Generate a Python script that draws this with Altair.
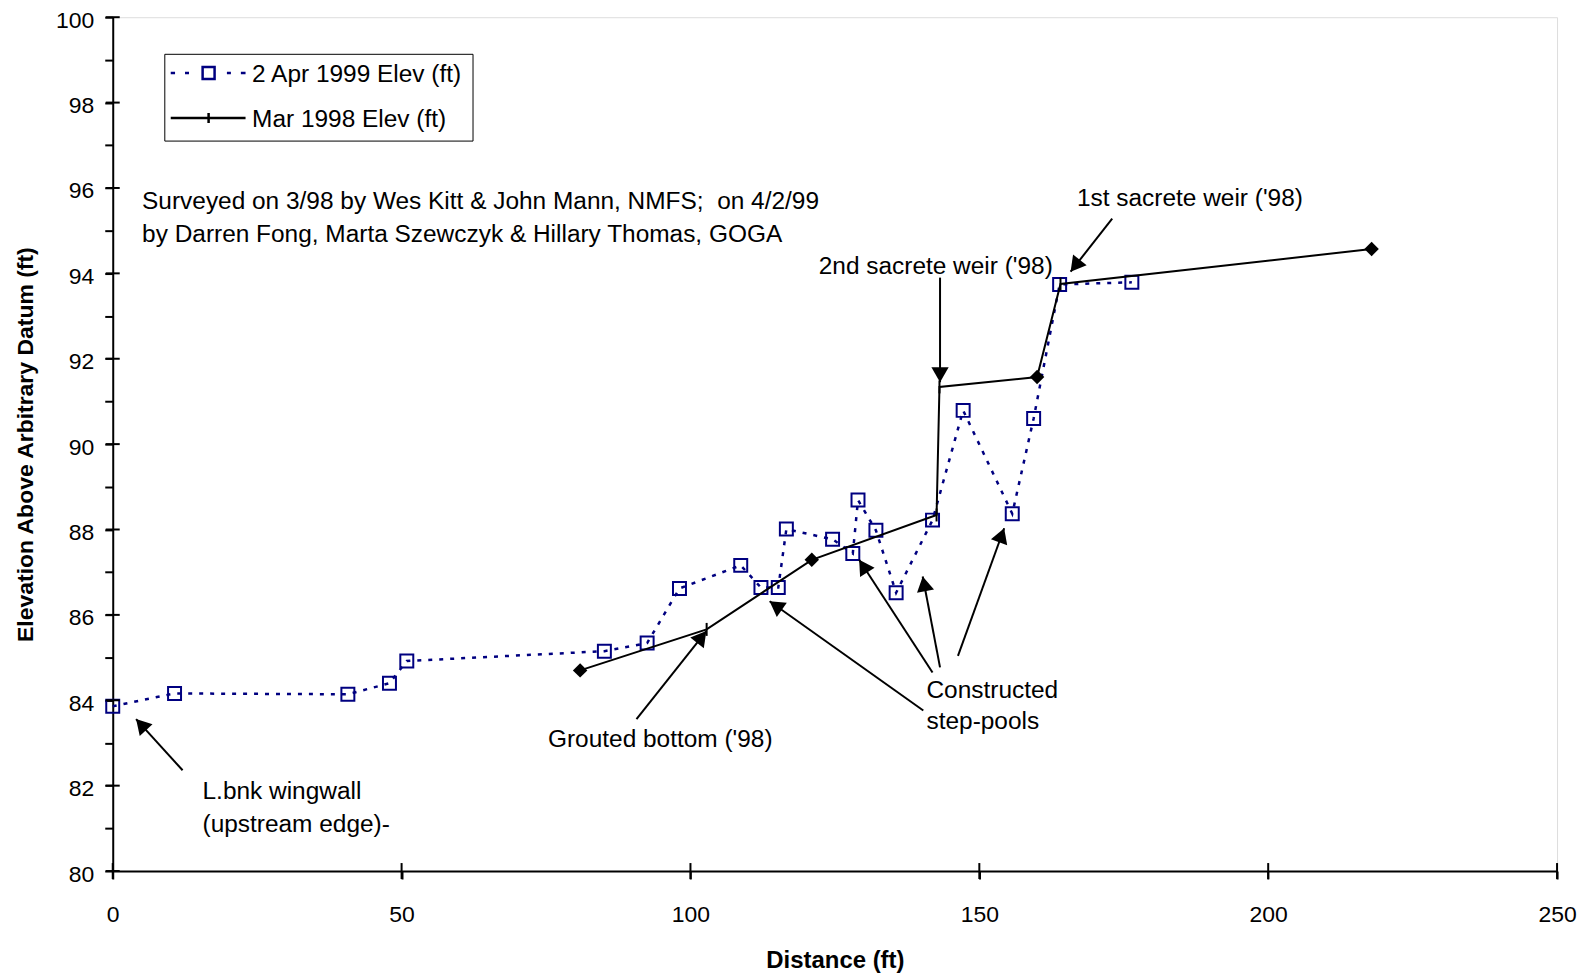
import math
import altair as alt
import pandas as pd

# ---------------- data ----------------
dist_1999 = [0, 10.7, 40.7, 47.9, 50.9, 85.1, 92.5, 98.1, 108.7, 112.2, 115.2, 116.6,
             124.6, 128.1, 129.0, 132.1, 135.6, 141.9, 147.2, 155.7, 159.4, 163.9, 176.4]
elev_1999 = [83.86, 84.16, 84.14, 84.40, 84.92, 85.15, 85.34, 86.62, 87.16, 86.64, 86.64, 88.01,
             87.77, 87.44, 88.69, 87.98, 86.52, 88.22, 90.79, 88.37, 90.60, 93.74, 93.79]

dist_1998 = [80.9, 102.8, 121.0, 142.6, 143.1, 160.0, 164.05, 217.9]
elev_1998 = [84.70, 85.66, 87.29, 88.34, 91.34, 91.57, 93.75, 94.57]
marker_1998 = ["diamond", "tick", "diamond", "tick", "tick", "diamond", "tick", "diamond"]

series_names = ["2 Apr 1999 Elev (ft)", "Mar 1998 Elev (ft)"]
series_colors = ["#000080", "#000000"]

x_tick_values = [0, 50, 100, 150, 200, 250]
y_tick_values = list(range(80, 101))
y_major_values = list(range(80, 101, 2))

# annotation arrows (tail -> tip), in data units
arrow_x = [12.09, 90.66, 140.3, 141.9, 143.2, 146.3, 143.2, 173.0]
arrow_y = [82.36, 83.56, 83.76, 84.65, 84.77, 85.04, 93.90, 95.28]
arrow_x2 = [4.04, 102.75, 113.7, 129.2, 140.2, 154.3, 143.2, 165.8]
arrow_y2 = [83.56, 85.62, 86.32, 87.29, 86.90, 88.03, 91.45, 94.04]

note_text = ["Surveyed on 3/98 by Wes Kitt & John Mann, NMFS;\u00a0 on 4/2/99",
             "by Darren Fong, Marta Szewczyk & Hillary Thomas, GOGA",
             "L.bnk wingwall", "(upstream edge)-",
             "Grouted bottom ('98)",
             "Constructed", "step-pools",
             "2nd sacrete weir ('98)",
             "1st sacrete weir ('98)"]
note_x = [5.08, 5.08, 15.54, 15.54, 75.34, 140.85, 140.85, 122.2, 166.9]
note_y = [95.66, 94.90, 81.85, 81.07, 83.07, 84.21, 83.48, 94.15, 95.74]

# ---------------- layout ----------------
W, H = 1448, 856
XMIN, XMAX, YMIN, YMAX = 0, 250, 80, 100
FONT = "Liberation Sans"
px_x = W / (XMAX - XMIN)
px_y = H / (YMAX - YMIN)

df99 = pd.DataFrame({"dist": dist_1999, "elev": elev_1999, "series": series_names[0]})
df98 = pd.DataFrame({"dist": dist_1998, "elev": elev_1998, "marker": marker_1998,
                     "series": series_names[1]})
df_all = pd.concat([df99, df98], ignore_index=True)

# arrowheads: triangle centred slightly back from the tip, rotated to the direction
head_rows = []
H_OFF = 7.5
for x1, y1, x2, y2 in zip(arrow_x, arrow_y, arrow_x2, arrow_y2):
    dxp = (x2 - x1) * px_x
    dyp = -(y2 - y1) * px_y
    L = math.hypot(dxp, dyp)
    ux, uy = dxp / L, dyp / L
    ang = math.degrees(math.atan2(dxp, -dyp)) % 360
    cx = x2 - ux * H_OFF / px_x
    cy = y2 + uy * H_OFF / px_y
    head_rows.append({"hx": cx, "hy": cy, "angle": ang})
df_arrow = pd.DataFrame({"x": arrow_x, "y": arrow_y, "x2": arrow_x2, "y2": arrow_y2})
df_head = pd.DataFrame(head_rows)
df_note = pd.DataFrame({"x": note_x, "y": note_y, "text": note_text})
df_xt = pd.DataFrame({"v": x_tick_values, "base": YMIN})
df_yt = pd.DataFrame({"v": y_major_values, "base": XMIN})

xscale = alt.Scale(domain=[XMIN, XMAX], nice=False, zero=False)
yscale = alt.Scale(domain=[YMIN, YMAX], nice=False, zero=False)

x_axis = alt.Axis(values=x_tick_values, title="Distance (ft)",
                  labelFontSize=23, titleFontSize=24, titleFontWeight="bold",
                  tickSize=8, tickWidth=2, labelPadding=25, titlePadding=22,
                  grid=False, domainColor="black", domainWidth=2, tickColor="black",
                  labelColor="black", titleColor="black", labelFont=FONT, titleFont=FONT,
                  labelFlush=False)
y_axis = alt.Axis(values=y_tick_values,
                  labelExpr="datum.value % 2 == 0 ? datum.label : ''",
                  title="Elevation Above Arbitrary Datum (ft)",
                  labelFontSize=23, titleFontSize=23, titleFontWeight="bold",
                  tickSize=8, tickWidth=2, labelPadding=11, titlePadding=18,
                  labelOffset=3,
                  grid=False, domainColor="black", domainWidth=2, tickColor="black",
                  labelColor="black", titleColor="black", labelFont=FONT, titleFont=FONT,
                  labelFlush=False)

X = alt.X("dist:Q", scale=xscale, axis=x_axis)
Y = alt.Y("elev:Q", scale=yscale, axis=y_axis)
Xn = alt.X("dist:Q", scale=xscale)
Yn = alt.Y("elev:Q", scale=yscale)

line99 = alt.Chart(df99).mark_line(color=series_colors[0], strokeDash=[4, 7],
                                   strokeWidth=2.5).encode(x=X, y=Y)
pts99 = alt.Chart(df99).mark_point(shape="square", size=169, filled=False, opacity=1,
                                   color=series_colors[0], strokeWidth=2).encode(x=Xn, y=Yn)
line98 = alt.Chart(df98).mark_line(color="black", strokeWidth=2).encode(x=Xn, y=Yn)
dia98 = alt.Chart(df98).transform_filter(alt.datum.marker == "diamond").mark_point(
    shape="diamond", size=210, filled=True, opacity=1, color="black").encode(x=Xn, y=Yn)
tick98 = alt.Chart(df98).transform_filter(alt.datum.marker == "tick").mark_point(
    shape="M0,-1L0,1", size=169, filled=False, opacity=1, color="black",
    strokeWidth=2).encode(x=Xn, y=Yn)

# crossing tick marks on the axes (Excel style)
xticks_cross = alt.Chart(df_xt).mark_tick(orient="vertical", size=16, thickness=2,
                                          color="black", opacity=1).encode(
    x=alt.X("v:Q", scale=xscale), y=alt.Y("base:Q", scale=yscale))
yticks_cross = alt.Chart(df_yt).mark_tick(orient="horizontal", size=14, thickness=2,
                                          color="black", opacity=1).encode(
    x=alt.X("base:Q", scale=xscale), y=alt.Y("v:Q", scale=yscale))

# legend (entries come from the explicit scale domain; no marks drawn)
path99 = ("M-3.7,-0.5L-2.62,-0.5M-0.12,-0.5L0.88,-0.5"
          "M4.29,-2L7.29,-2L7.29,1L4.29,1Z"
          "M10.38,-0.5L11.38,-0.5M13.88,-0.5L15.05,-0.5")
path98 = "M-3.7,-0.5L15.05,-0.5M5.79,-1.75L5.79,0.75"
leg = alt.Legend(title=None, orient="none", legendX=51.7, legendY=36.7,
                 labelFontSize=24.5, labelFont=FONT, labelColor="black",
                 strokeColor="black", fillColor="white", padding=9, rowPadding=20,
                 labelOffset=54.5, symbolSize=64, symbolStrokeWidth=2.5,
                 labelLimit=500, cornerRadius=0, direction="vertical")
legend_layer = alt.Chart(df_all).transform_filter("false").mark_point(
    filled=False, opacity=1, size=64).encode(
    x=Xn, y=Yn,
    shape=alt.Shape("series:N", scale=alt.Scale(domain=series_names, range=[path99, path98]),
                    legend=leg),
    color=alt.Color("series:N", scale=alt.Scale(domain=series_names, range=series_colors),
                    legend=leg),
)

arrows = alt.Chart(df_arrow).mark_rule(color="black", strokeWidth=2).encode(
    x=alt.X("x:Q", scale=xscale), y=alt.Y("y:Q", scale=yscale),
    x2="x2:Q", y2="y2:Q")
heads = alt.Chart(df_head).mark_point(shape="triangle-up", size=300, filled=True,
                                      opacity=1, color="black").encode(
    x=alt.X("hx:Q", scale=xscale), y=alt.Y("hy:Q", scale=yscale),
    angle=alt.Angle("angle:Q", scale=None))
notes = alt.Chart(df_note).mark_text(align="left", baseline="middle", fontSize=24.5,
                                     font=FONT, color="black").encode(
    x=alt.X("x:Q", scale=xscale), y=alt.Y("y:Q", scale=yscale), text="text:N")

chart = alt.layer(line99, pts99, line98, dia98, tick98, xticks_cross, yticks_cross,
                  arrows, heads, notes, legend_layer).properties(
    width=W, height=H,
    autosize=alt.AutoSizeParams(type="none"),
    padding={"left": 105, "top": 8, "right": 22, "bottom": 102},
).configure_view(stroke="black", strokeWidth=2).configure(background="white")

chart.save("out.html", embed_options={"renderer": "svg", "actions": False})
